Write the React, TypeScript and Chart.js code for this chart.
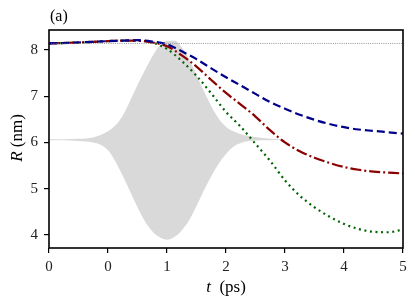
import React, { useEffect, useRef } from "react";
import { Chart, registerables } from "chart.js";

Chart.register(...registerables);

// ---- data ----
const xTickValues = [-1, 0, 1, 2, 3, 4, 5];
const xTickLabels = ["0", "0", "1", "2", "3", "4", "5"];
const yTickValues = [4, 5, 6, 7, 8];

const tCurve = [-1, -0.5, 0, 0.25, 0.5, 0.75, 1.0, 1.25, 1.5, 1.75, 2.0, 2.25, 2.5, 2.75, 3.0, 3.25, 3.5, 3.75, 4.0, 4.25, 4.5, 4.75, 5.0];
const blueR = [8.14, 8.16, 8.19, 8.2, 8.21, 8.18, 8.12, 7.97, 7.8, 7.6, 7.41, 7.23, 7.05, 6.87, 6.73, 6.6, 6.49, 6.4, 6.33, 6.28, 6.25, 6.22, 6.19];
const redR = [8.14, 8.16, 8.19, 8.2, 8.2, 8.16, 8.08, 7.88, 7.64, 7.35, 7.07, 6.82, 6.56, 6.26, 6.0, 5.81, 5.67, 5.56, 5.47, 5.41, 5.37, 5.35, 5.33];
const greenR = [8.14, 8.16, 8.19, 8.2, 8.2, 8.16, 8.02, 7.76, 7.44, 7.06, 6.66, 6.34, 5.97, 5.6, 5.18, 4.85, 4.6, 4.4, 4.24, 4.13, 4.07, 4.06, 4.12];

const tPulse = [-1, -0.75, -0.5, -0.25, -0.125, 0, 0.125, 0.25, 0.375, 0.5, 0.625, 0.75, 0.875, 1.0, 1.125, 1.25, 1.375, 1.5, 1.625, 1.75, 1.875, 2.0, 2.125, 2.25, 2.5, 2.75, 3.0];
const pulseUpper = [6.07, 6.07, 6.08, 6.11, 6.16, 6.24, 6.37, 6.58, 6.9, 7.24, 7.56, 7.86, 8.09, 8.2, 8.2, 8.06, 7.8, 7.46, 7.11, 6.79, 6.52, 6.34, 6.24, 6.18, 6.12, 6.08, 6.07];
const pulseLower = [6.05, 6.05, 6.03, 6.0, 5.95, 5.83, 5.59, 5.28, 4.94, 4.6, 4.3, 4.08, 3.95, 3.9, 3.96, 4.1, 4.32, 4.63, 4.96, 5.27, 5.54, 5.75, 5.91, 5.99, 6.04, 6.05, 6.06];

const refT = [-1, 5];
const refR = [8.14, 8.14];

const xMin = -1;
const xMax = 5;
const yMin = 3.72;
const yMax = 8.43;

const pts = (xs: number[], ys: number[]) => xs.map((x, i) => ({ x, y: ys[i] }));

const SERIF = "'Liberation Serif', 'DejaVu Serif', serif";

const decorPlugin = {
  id: "decor",
  afterDraw(chart: any) {
    const { ctx, chartArea } = chart;
    const { left, right, top, bottom } = chartArea;
    ctx.save();
    // frame
    ctx.strokeStyle = "#000";
    ctx.lineWidth = 1.6;
    ctx.strokeRect(left, top, right - left, bottom - top);

    ctx.fillStyle = "#000";
    // (a)
    ctx.font = `16px ${SERIF}`;
    ctx.textAlign = "left";
    ctx.textBaseline = "middle";
    ctx.fillText("(a)", 50, 17);

    // x title: t (ps)
    const cx = (left + right) / 2;
    const yT = 288;
    ctx.font = `italic 17px ${SERIF}`;
    const wT = ctx.measureText("t").width;
    ctx.font = `17px ${SERIF}`;
    const wRest = ctx.measureText("  (ps)").width;
    let x0 = cx - (wT + wRest) / 2;
    ctx.font = `italic 17px ${SERIF}`;
    ctx.fillText("t", x0, yT);
    ctx.font = `17px ${SERIF}`;
    ctx.fillText("  (ps)", x0 + wT, yT);

    // y title: R (nm)
    ctx.translate(18, 138);
    ctx.rotate(-Math.PI / 2);
    ctx.font = `italic 17px ${SERIF}`;
    const wR = ctx.measureText("R").width;
    ctx.font = `17px ${SERIF}`;
    const wNm = ctx.measureText(" (nm)").width;
    x0 = -(wR + wNm) / 2;
    ctx.font = `italic 17px ${SERIF}`;
    ctx.fillText("R", x0, 0);
    ctx.font = `17px ${SERIF}`;
    ctx.fillText(" (nm)", x0 + wR, 0);
    ctx.restore();
  },
};

export default function App() {
  const ref = useRef<HTMLCanvasElement | null>(null);

  useEffect(() => {
    document.body.style.margin = "0";
    const canvas = ref.current;
    if (!canvas) return;
    const chart = new Chart(canvas, {
      type: "line",
      data: {
        datasets: [
          {
            label: "ref",
            data: pts(refT, refR),
            borderColor: "#777",
            borderWidth: 0.8,
            borderDash: [1, 1.2],
            pointRadius: 0,
            fill: false,
            order: 1,
          },
          {
            label: "blue",
            data: pts(tCurve, blueR),
            borderColor: "#00008b",
            borderWidth: 2.2,
            borderDash: [8, 4],
            pointRadius: 0,
            cubicInterpolationMode: "monotone",
            fill: false,
            order: 2,
          },
          {
            label: "red",
            data: pts(tCurve, redR),
            borderColor: "#8b0000",
            borderWidth: 2.2,
            borderDash: [11, 3, 2, 3],
            pointRadius: 0,
            cubicInterpolationMode: "monotone",
            fill: false,
            order: 3,
          },
          {
            label: "green",
            data: pts(tCurve, greenR),
            borderColor: "#006400",
            borderWidth: 2.2,
            borderDash: [2, 3.6],
            pointRadius: 0,
            cubicInterpolationMode: "monotone",
            fill: false,
            order: 4,
          },
          {
            label: "upper",
            data: pts(tPulse, pulseUpper),
            borderColor: "rgba(0,0,0,0)",
            borderWidth: 0,
            backgroundColor: "#d9d9d9",
            pointRadius: 0,
            cubicInterpolationMode: "monotone",
            fill: "+1",
            order: 10,
          },
          {
            label: "lower",
            data: pts(tPulse, pulseLower),
            borderColor: "rgba(0,0,0,0)",
            borderWidth: 0,
            pointRadius: 0,
            cubicInterpolationMode: "monotone",
            fill: false,
            order: 11,
          },
        ],
      },
      options: {
        animation: false,
        responsive: true,
        maintainAspectRatio: false,
        layout: { padding: { left: 0, top: 30, right: 12, bottom: 0 } },
        plugins: {
          legend: { display: false },
          tooltip: { enabled: false },
          title: { display: false },
        },
        scales: {
          x: {
            type: "linear",
            min: xMin,
            max: xMax,
            afterFit: (s: any) => {
              s.height = 59;
            },
            afterBuildTicks: (s: any) => {
              s.ticks = xTickValues.map((v) => ({ value: v }));
            },
            border: { display: false },
            grid: {
              drawOnChartArea: false,
              drawTicks: true,
              tickLength: 5,
              color: "#000",
              lineWidth: 1.2,
            },
            ticks: {
              padding: 5,
              color: "#222",
              font: { family: SERIF, size: 15 },
              maxRotation: 0,
              callback: (v: any) => {
                const i = xTickValues.indexOf(Number(v));
                return i >= 0 ? xTickLabels[i] : "";
              },
            },
          },
          y: {
            type: "linear",
            min: yMin,
            max: yMax,
            afterFit: (s: any) => {
              s.width = 49;
            },
            afterBuildTicks: (s: any) => {
              s.ticks = yTickValues.map((v) => ({ value: v }));
            },
            border: { display: false },
            grid: {
              drawOnChartArea: false,
              drawTicks: true,
              tickLength: 5,
              color: "#000",
              lineWidth: 1.2,
            },
            ticks: {
              padding: 6,
              color: "#222",
              font: { family: SERIF, size: 15 },
              callback: (v: any) => String(v),
            },
          },
        },
      },
      plugins: [decorPlugin],
    } as any);
    return () => chart.destroy();
  }, []);

  return (
    <div style={{ position: "absolute", left: 0, top: 0, width: 415, height: 307 }}>
      <canvas ref={ref} />
    </div>
  );
}
